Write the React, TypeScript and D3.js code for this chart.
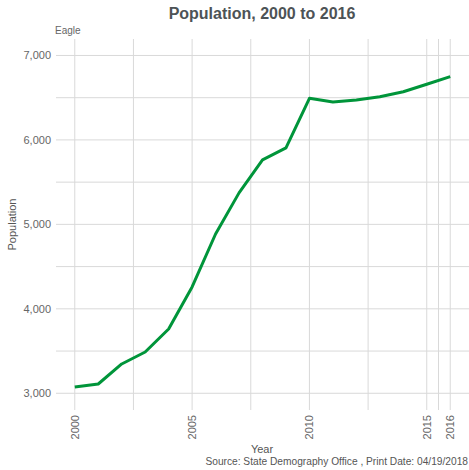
import React from "react";
import * as d3 from "d3";

const years = [2000, 2001, 2002, 2003, 2004, 2005, 2006, 2007, 2008, 2009, 2010, 2011, 2012, 2013, 2014, 2015, 2016];
const population = [3075, 3110, 3347, 3489, 3761, 4259, 4886, 5373, 5763, 5905, 6493, 6450, 6473, 6512, 6571, 6659, 6749];
const xBreaks = [2000, 2005, 2010, 2015, 2016];
const xMinor = [2002.5, 2007.5, 2012.5, 2015.5];
const yBreaks = [3000, 4000, 5000, 6000, 7000];
const yMinor = [3500, 4500, 5500, 6500];
const title = "Population, 2000 to 2016";
const subtitle = "Eagle";
const xTitle = "Year";
const yTitle = "Population";
const caption = "Source: State Demography Office , Print Date: 04/19/2018";

const W = 469, H = 470;
const left = 56, right = 469, top = 39, bottom = 410;
const font = "'Liberation Sans', Arial, sans-serif";

export default function App() {
  const x = d3.scaleLinear().domain([1999.2, 2016.8]).range([left, right]);
  const y = d3.scaleLinear().domain([2802, 7195]).range([bottom, top]);
  const line = d3.line<number>().x((_, i) => x(years[i])).y((d) => y(d));
  const fmt = d3.format(",");
  const grid = "#d9d9d9";
  const tickCol = "#666666";
  return (
    <svg width={W} height={H} style={{ position: "absolute", left: 0, top: 0, fontFamily: font }}>
      <rect width={W} height={H} fill="#fff" />
      {yMinor.map((v) => (
        <line key={"ym" + v} x1={left} x2={right} y1={y(v)} y2={y(v)} stroke={grid} strokeWidth={1} />
      ))}
      {yBreaks.map((v) => (
        <line key={"y" + v} x1={left} x2={right} y1={y(v)} y2={y(v)} stroke={grid} strokeWidth={1} />
      ))}
      {xMinor.map((v) => (
        <line key={"xm" + v} x1={x(v)} x2={x(v)} y1={top} y2={bottom} stroke={grid} strokeWidth={1} />
      ))}
      {xBreaks.map((v) => (
        <line key={"x" + v} x1={x(v)} x2={x(v)} y1={top} y2={bottom} stroke={grid} strokeWidth={1} />
      ))}
      <path d={line(population) || ""} fill="none" stroke="#00953A" strokeWidth={3} strokeLinejoin="round" />
      {yBreaks.map((v) => (
        <text key={"yl" + v} x={51} y={y(v)} dy="0.35em" textAnchor="end" fontSize={11} fill={tickCol}>
          {fmt(v)}
        </text>
      ))}
      {xBreaks.map((v) => (
        <text
          key={"xl" + v}
          transform={`translate(${x(v)},${415}) rotate(-90)`}
          dy="0.35em"
          textAnchor="end"
          fontSize={11}
          fill={tickCol}
        >
          {v}
        </text>
      ))}
      <text x={262} y={19} textAnchor="middle" fontSize={16} fontWeight="bold" fill="#4d5356">
        {title}
      </text>
      <text x={55} y={34} fontSize={10} fill="#666">
        {subtitle}
      </text>
      <text x={262} y={453} textAnchor="middle" fontSize={11} fill="#555">
        {xTitle}
      </text>
      <text transform={`translate(16,${(top + bottom) / 2}) rotate(-90)`} textAnchor="middle" fontSize={11} fill="#555">
        {yTitle}
      </text>
      <text x={468} y={465} textAnchor="end" fontSize={10.2} fill="#555">
        {caption}
      </text>
    </svg>
  );
}
